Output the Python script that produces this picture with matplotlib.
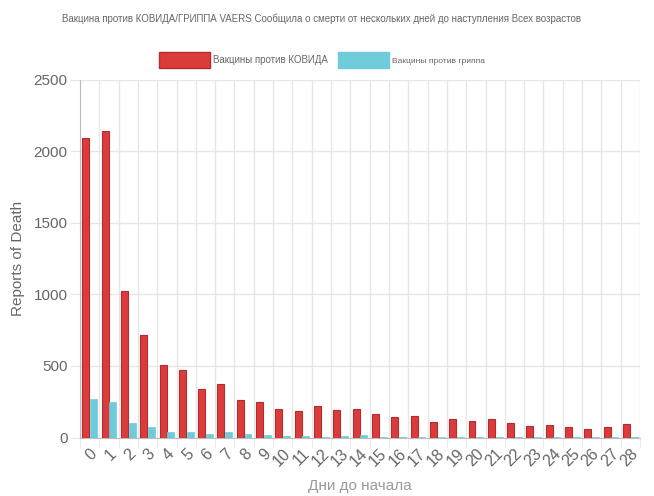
import matplotlib.pyplot as plt
from matplotlib.patches import Patch
from matplotlib.ticker import MultipleLocator, FixedLocator
import numpy as np

plt.rcParams['font.family'] = ['Liberation Sans', 'DejaVu Sans']

# days from vaccination to death onset
days = list(range(29))
covid = [2090, 2140, 1023, 714, 503, 471, 342, 377, 262, 247,
         202, 184, 219, 193, 202, 163, 140, 149, 110, 128,
         114, 128, 100, 82, 89, 75, 58, 72, 93]
flu = [272, 251, 100, 72, 40, 35, 23, 37, 23, 20,
       10, 8, 6, 9, 14, 3, 4, 3, 2, 3,
       2, 4, 2, 2, 2, 2, 2, 2, 3]

title = "Вакцина против КОВИДА/ГРИППА VAERS Сообщила о смерти от нескольких дней до наступления Всех возрастов"
label_covid = "Вакцины против КОВИДА"
label_flu = "Вакцины против гриппа"

red = '#dc3b3c'
red_edge = '#b52c2d'
cyan = '#6ecbd9'
gray = '#666666'
grid = '#e6e6e6'

fig = plt.figure(figsize=(6.54, 4.96), dpi=100)
ax = fig.add_axes([80/654, 58.5/496, 560/654, 358/496])

x = np.array(days)
ax.bar(x - 0.2, covid, width=0.36, color=red, edgecolor=red_edge, linewidth=0.8, zorder=3)
ax.bar(x + 0.2, flu, width=0.36, color=cyan, edgecolor=cyan, linewidth=0.5, zorder=3)

ax.set_xlim(-0.5, 28.5)
ax.set_ylim(0, 2500)
ax.yaxis.set_major_locator(MultipleLocator(500))
ax.set_xticks(days)
ax.set_xticklabels([str(d) for d in days], rotation=45, ha='right',
                   rotation_mode='anchor', fontsize=11.5, color=gray)
ax.xaxis.set_minor_locator(FixedLocator(np.arange(-0.5, 29, 1)))
ax.tick_params(axis='x', which='major', length=0, pad=6)
ax.tick_params(axis='x', which='minor', length=7, color=grid)
ax.tick_params(axis='y', length=7, color=grid, labelsize=11, labelcolor=gray, pad=2)

ax.grid(True, axis='x', which='minor', color=grid, linewidth=1, zorder=0)
ax.grid(True, axis='y', which='major', color=grid, linewidth=1, zorder=0)
for side in ['top', 'right']:
    ax.spines[side].set_visible(False)
for side in ['left', 'bottom']:
    ax.spines[side].set_color('#bdbdbd')

ax.set_xlabel("Дни до начала", fontsize=11, color='#9a9a9a', labelpad=7)
ax.set_ylabel("Reports of Death", fontsize=11, color=gray, labelpad=6)

fig.text(0.492, 0.962, title, ha='center', va='center', fontsize=7,
         color=gray)

handles = [Patch(facecolor=red, edgecolor=red_edge, label=label_covid),
           Patch(facecolor=cyan, edgecolor=cyan, label=label_flu)]
leg = fig.legend(handles=handles, loc='center', bbox_to_anchor=(0.492, 0.879), ncol=2,
                 frameon=False, fontsize=7, handlelength=5.3, handleheight=2.3,
                 handletextpad=0.3, columnspacing=1.0)
leg.get_texts()[0].set_color(gray)
leg.get_texts()[1].set_color(gray)
leg.get_texts()[1].set_fontsize(6)

fig.savefig('out.png', dpi=100)
